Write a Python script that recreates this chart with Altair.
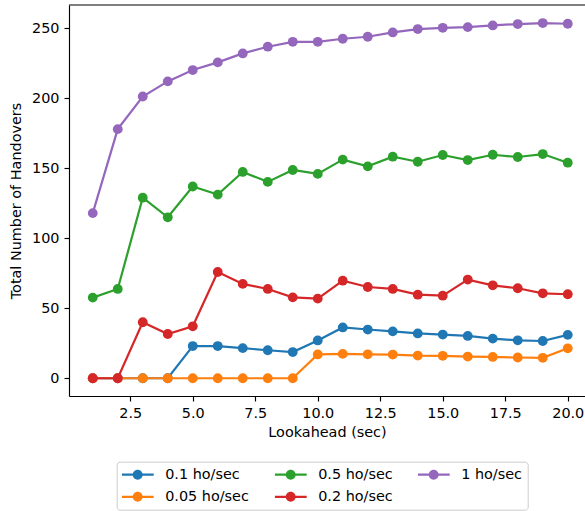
import altair as alt
import pandas as pd

# Lookahead window (seconds)
lookahead = [1, 2, 3, 4, 5, 6, 7, 8, 9, 10, 11, 12, 13, 14, 15, 16, 17, 18, 19, 20]

# Total number of handovers per handover rate
ho_01 = [0, 0, 0, 0, 23, 23, 21.5, 20, 18.7, 27, 36.3, 34.8, 33.5, 32, 31.2, 30.2, 28.3, 27.1, 26.6, 31]
ho_005 = [0, 0, 0, 0, 0, 0, 0, 0, 0, 17, 17.4, 17.1, 16.9, 16.2, 16, 15.5, 15.2, 14.8, 14.6, 21.4]
ho_05 = [57.6, 63.8, 129, 115, 137, 131.2, 147.4, 140.3, 148.8, 146, 156.2, 151.4, 158.3, 154.7, 159.5, 155.9, 159.7, 158.1, 160.2, 154]
ho_02 = [0, 0, 40, 31.6, 37.1, 75.9, 67.4, 63.8, 57.8, 56.9, 69.7, 65.2, 63.8, 59.7, 59, 70.5, 66.4, 64.3, 60.7, 60]
ho_1 = [118, 178, 201.3, 212.1, 220.2, 225.7, 232.1, 236.9, 240.4, 240.4, 242.6, 244, 247.1, 249.5, 250.4, 250.9, 252.1, 253.1, 253.8, 253.3]

series = [
    ("0.1 ho/sec", ho_01),
    ("0.05 ho/sec", ho_005),
    ("0.5 ho/sec", ho_05),
    ("0.2 ho/sec", ho_02),
    ("1 ho/sec", ho_1),
]
rate_labels = [label for label, _ in series]
rate_colors = ["#1f77b4", "#ff7f0e", "#2ca02c", "#d62728", "#9467bd"]

rows = []
for label, values in series:
    for x, y in zip(lookahead, values):
        rows.append({"lookahead": x, "handovers": y, "rate": label})
df = pd.DataFrame(rows)

FONT = "DejaVu Sans"
FS = 14.4
W, H = 516, 391

# line with a dot, as a legend glyph
glyph = ("M-1,-0.07L1,-0.07L1,0.07L-1,0.07Z "
         "M0.31,0A0.31,0.31,0,1,1,-0.31,0A0.31,0.31,0,1,1,0.31,0Z")

legend = alt.Legend(
    title=None,
    orient="none",
    legendX=47.7,
    legendY=456.7,
    columns=3,
    padding=5,
    strokeColor="#cccccc",
    fillColor="white",
    cornerRadius=3,
    labelFont=FONT,
    labelFontSize=FS,
    labelColor="black",
    labelLimit=300,
    labelOffset=11.5,
    symbolType=glyph,
    symbolSize=1024,
    symbolStrokeWidth=0,
    clipHeight=15.2,
    columnPadding=25,
    rowPadding=5.5,
)

x_enc = alt.X(
    "lookahead:Q",
    scale=alt.Scale(domain=[0.05, 20.69], nice=False, zero=False),
    axis=alt.Axis(values=[2.5, 5, 7.5, 10, 12.5, 15, 17.5, 20], format=".1f",
                  title="Lookahead (sec)"),
)
y_enc = alt.Y(
    "handovers:Q",
    scale=alt.Scale(domain=[-12.7, 266.7], nice=False, zero=False),
    axis=alt.Axis(values=[0, 50, 100, 150, 200, 250], title="Total Number of Handovers"),
)
color_enc = alt.Color("rate:N", scale=alt.Scale(domain=rate_labels, range=rate_colors),
                      legend=legend)

layers = []
for label in rate_labels:
    base = alt.Chart(df).transform_filter(alt.datum.rate == label)
    layers.append(base.mark_line(strokeWidth=2.2).encode(x=x_enc, y=y_enc, color=color_enc))
    layers.append(base.mark_point(filled=True, opacity=1, size=96, shape="circle")
                  .encode(x=x_enc, y=y_enc, color=color_enc))

# top spine of the frame
frame_top = alt.Chart(pd.DataFrame({"k": [0]})).mark_rule(color="black", strokeWidth=1.15).encode(
    x=alt.value(0), x2=alt.value(W), y=alt.value(0)
)

chart = alt.layer(*layers, frame_top).properties(
    width=W,
    height=H,
    autosize=alt.AutoSizeParams(type="none"),
    padding={"left": 69, "top": 5, "right": 0, "bottom": 115},
).configure_view(
    stroke=None
).configure_axis(
    grid=False,
    domainColor="black",
    domainWidth=1.15,
    tickColor="black",
    tickWidth=1.15,
    tickSize=5,
    labelFont=FONT,
    labelFontSize=FS,
    labelColor="black",
    labelPadding=5,
    titleFont=FONT,
    titleFontSize=FS,
    titleFontWeight="normal",
    titleColor="black",
).configure_axisX(
    titlePadding=6,
    labelFlush=False,
).configure_axisY(
    titlePadding=8,
)

chart.save("out.html", embed_options={"renderer": "svg", "actions": False})
